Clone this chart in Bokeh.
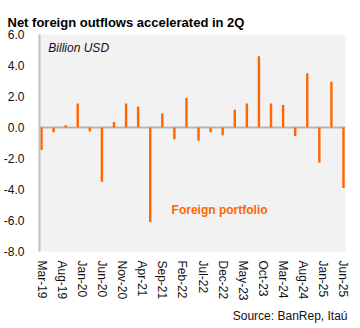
import math
from bokeh.plotting import figure
from bokeh.models import (FixedTicker, NumeralTickFormatter, Span, Label, Title,
                          ColumnDataSource)
from bokeh.embed import file_html
from bokeh.resources import INLINE

# Quarter-end months of each bar (Mar-19 ... Jun-25)
quarters = ["Mar-19", "Jun-19", "Sep-19", "Dec-19", "Mar-20", "Jun-20", "Sep-20", "Dec-20",
            "Mar-21", "Jun-21", "Sep-21", "Dec-21", "Mar-22", "Jun-22", "Sep-22", "Dec-22",
            "Mar-23", "Jun-23", "Sep-23", "Dec-23", "Mar-24", "Jun-24", "Sep-24", "Dec-24",
            "Mar-25", "Jun-25"]
# Net foreign portfolio flows, billion USD
flows = [-1.45, -0.3, 0.15, 1.55, -0.25, -3.5, 0.35, 1.55,
         1.35, -6.1, 0.9, -0.75, 1.9, -0.85, -0.3, -0.5,
         1.15, 1.55, 4.6, 1.55, 1.45, -0.55, 3.5, -2.25,
         2.95, -3.9]
# Axis tick labels (every 5 months)
tick_labels = ["Mar-19", "Aug-19", "Jan-20", "Jun-20", "Nov-20", "Apr-21", "Sep-21", "Feb-22",
               "Jul-22", "Dec-22", "May-23", "Oct-23", "Mar-24", "Aug-24", "Jan-25", "Jun-25"]
y_ticks = [-8, -6, -4, -2, 0, 2, 4, 6]

MONTHS = {m: i for i, m in enumerate(["Jan", "Feb", "Mar", "Apr", "May", "Jun", "Jul",
                                       "Aug", "Sep", "Oct", "Nov", "Dec"])}

def month_index(lbl):
    m, y = lbl.split("-")
    return (int(y) - 19) * 12 + MONTHS[m] - MONTHS["Mar"]

xq = [month_index(q) for q in quarters]
xt = [month_index(t) for t in tick_labels]

FONT = "Liberation Sans"
ORANGE = "#FF6600"

p = figure(width=360, height=328, output_backend="svg", toolbar_location=None,
           x_range=(-0.5, 75.5), y_range=(-8, 6),
           min_border_left=35, min_border_right=15, min_border_top=34, min_border_bottom=77)

p.title.text = "Net foreign outflows accelerated in 2Q"
p.title.text_font = FONT
p.title.text_font_size = "13px"
p.title.text_font_style = "bold"
p.title.text_color = "#000000"
p.title.align = "left"
p.title.offset = -32
p.title.standoff = 9

p.background_fill_color = "#f2f2f2"
p.border_fill_color = "#ffffff"
p.outline_line_color = None
p.xgrid.visible = False
p.ygrid.visible = False

src = ColumnDataSource(dict(x=xq, top=flows))
p.vbar(x="x", top="top", bottom=0, width=0.6, source=src,
       fill_color=ORANGE, line_color=None)

p.add_layout(Span(location=0, dimension="width", line_color="#b5b5b5",
                  line_width=2, level="underlay"))

# y axis
ya = p.yaxis[0]
ya.ticker = FixedTicker(ticks=y_ticks)
ya.formatter = NumeralTickFormatter(format="0.0")
ya.axis_line_color = "#c0c0c0"
ya.axis_line_width = 2
ya.major_tick_line_color = None
ya.minor_tick_line_color = None
ya.major_label_text_font = FONT
ya.major_label_text_font_size = "12px"
ya.major_label_text_color = "#111111"
ya.major_label_standoff = 9

# x axis
xa = p.xaxis[0]
xa.ticker = FixedTicker(ticks=xt)
xa.major_label_overrides = {x: t for x, t in zip(xt, tick_labels)}
xa.major_label_orientation = -math.pi / 2
xa.axis_line_color = None
xa.major_tick_line_color = None
xa.minor_tick_line_color = None
xa.major_label_text_font = FONT
xa.major_label_text_font_size = "12px"
xa.major_label_text_color = "#111111"
xa.major_label_standoff = 3

p.add_layout(Label(x=1.7, y=5.6, text="Billion USD", text_font=FONT,
                   text_font_size="12px", text_font_style="italic",
                   text_baseline="top", text_color="#111111"))
p.add_layout(Label(x=32.3, y=-5.3, text="Foreign portfolio", text_font=FONT,
                   text_font_size="12px", text_font_style="bold",
                   text_baseline="middle", text_color=ORANGE))

src_title = Title(text="Source: BanRep, Itaú", align="right", text_font=FONT,
                  text_font_size="12px", text_font_style="normal",
                  text_color="#111111", offset=-2, standoff=6)
p.add_layout(src_title, "below")

open("out.html", "w").write(file_html(p, INLINE))
